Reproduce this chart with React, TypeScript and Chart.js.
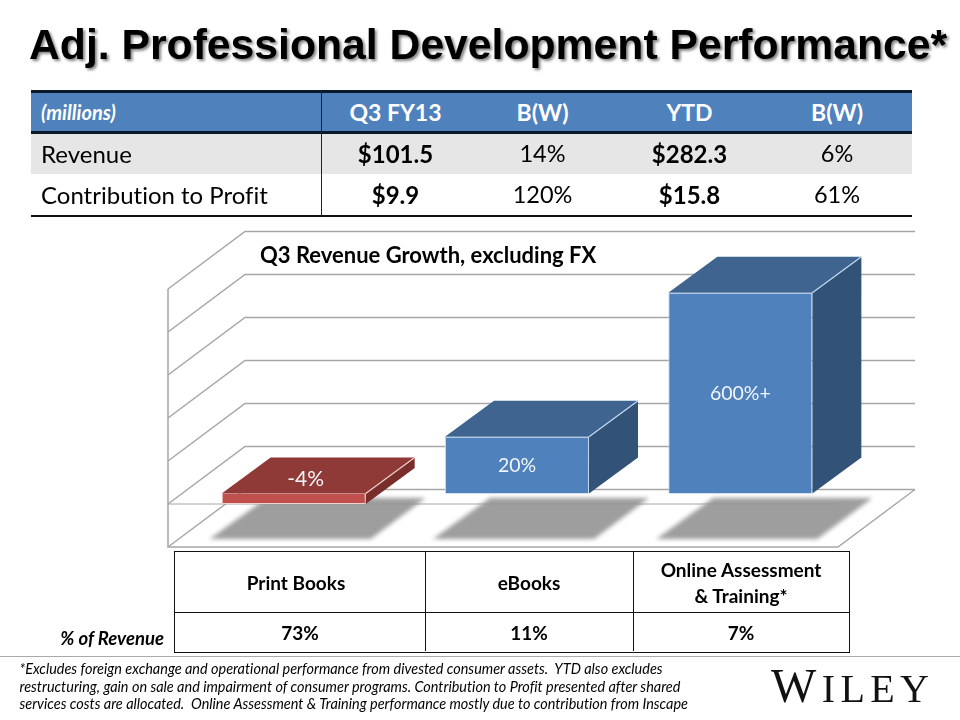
import React, { useEffect, useRef } from "react";
import { Chart, registerables } from "chart.js";

Chart.register(...registerables);

const categories = ["Print Books", "eBooks", "Online Assessment & Training*"];
const growthValues = [-3.7, 19.8, 70];
const growthLabels = ["-4%", "20%", "600%+"];
const revenueShare = ["73%", "11%", "7%"];
const summaryHeader = ["(millions)", "Q3 FY13", "B(W)", "YTD", "B(W)"];
const revenueRow = ["Revenue", "$101.5", "14%", "$282.3", "6%"];
const profitRow = ["Contribution to Profit", "$9.9", "120%", "$15.8", "61%"];
const footnoteLines = [
  "*Excludes foreign exchange and operational performance from divested consumer assets.  YTD also excludes",
  "restructuring, gain on sale and impairment of consumer programs. Contribution to Profit presented after shared",
  "services costs are allocated.  Online Assessment & Training performance mostly due to contribution from Inscape",
];

const BODY = "Lato, 'Noto Sans', sans-serif";
const colX = [395.5, 542.5, 689.5, 837];

const depth3d = { dx: 49, dy: -36 };
const wall = { backDx: 63, backDy: -47, frontDx: -14, frontDy: 10.5 };

const palette = (v: number) =>
  v < 0
    ? { top: "#8f3a36", side: "#7a2e2c", edge: "#f0d0ce" }
    : { top: "#3e648f", side: "#335278", edge: "#c6d9f1" };

const scene3d = {
  id: "scene3d",
  beforeDatasetsDraw(chart: any) {
    const { ctx, chartArea, scales } = chart;
    const y = scales.y;
    const L = chartArea.left;
    const R = chartArea.right;
    const bl = L + wall.backDx;
    const br = R + wall.backDx;
    const fl = L + wall.frontDx;
    const fr = R + wall.frontDx;
    const min = y.min;
    const max = y.max;
    ctx.save();
    ctx.lineCap = "butt";
    ctx.strokeStyle = "#a6a6a6";
    ctx.lineWidth = 1.5;
    y.ticks.forEach((t: any) => {
      const p = y.getPixelForValue(t.value);
      ctx.beginPath();
      ctx.moveTo(fl, p + wall.frontDy);
      ctx.lineTo(bl, p + wall.backDy);
      ctx.lineTo(br, p + wall.backDy);
      ctx.stroke();
    });
    const pTop = y.getPixelForValue(max);
    const pMin = y.getPixelForValue(min);
    const pZero = y.getPixelForValue(0);
    ctx.beginPath();
    ctx.moveTo(fl, pTop + wall.frontDy);
    ctx.lineTo(fl, pMin + wall.frontDy);
    ctx.lineTo(fr, pMin + wall.frontDy);
    ctx.lineTo(br, pMin + wall.backDy);
    ctx.stroke();
    ctx.lineWidth = 1;
    ctx.beginPath();
    ctx.moveTo(fl, pZero + wall.frontDy);
    ctx.lineTo(fr, pZero + wall.frontDy);
    ctx.stroke();

    const bars = chart.getDatasetMeta(0).data;
    // floor shadows
    bars.forEach((b: any) => {
      const l = b.x - b.width / 2;
      const r = b.x + b.width / 2;
      ctx.save();
      ctx.filter = "blur(2px)";
      ctx.fillStyle = "rgba(150,150,150,0.92)";
      ctx.beginPath();
      ctx.moveTo(l + 45, pZero + 4.5);
      ctx.lineTo(r + 60, pZero + 4.5);
      ctx.lineTo(r + 5, pZero + 45.5);
      ctx.lineTo(l - 12, pZero + 45.5);
      ctx.closePath();
      ctx.fill();
      ctx.restore();
    });
    // top and side faces
    bars.forEach((b: any, i: number) => {
      const v = growthValues[i];
      const c = palette(v);
      const l = b.x - b.width / 2;
      const r = b.x + b.width / 2;
      const top = Math.min(b.y, b.base);
      const bot = Math.max(b.y, b.base);
      ctx.fillStyle = c.top;
      ctx.beginPath();
      ctx.moveTo(l, top);
      ctx.lineTo(l + depth3d.dx, top + depth3d.dy);
      ctx.lineTo(r + depth3d.dx, top + depth3d.dy);
      ctx.lineTo(r, top);
      ctx.closePath();
      ctx.fill();
      ctx.fillStyle = c.side;
      ctx.beginPath();
      ctx.moveTo(r, top);
      ctx.lineTo(r + depth3d.dx, top + depth3d.dy);
      ctx.lineTo(r + depth3d.dx, bot + depth3d.dy);
      ctx.lineTo(r, bot);
      ctx.closePath();
      ctx.fill();
    });
    ctx.restore();
  },
  afterDatasetsDraw(chart: any) {
    const { ctx } = chart;
    const bars = chart.getDatasetMeta(0).data;
    ctx.save();
    bars.forEach((b: any, i: number) => {
      const v = growthValues[i];
      const c = palette(v);
      const r = b.x + b.width / 2;
      const top = Math.min(b.y, b.base);
      ctx.strokeStyle = c.edge;
      ctx.lineWidth = 1.2;
      ctx.beginPath();
      ctx.moveTo(r, top);
      ctx.lineTo(r + depth3d.dx, top + depth3d.dy);
      ctx.stroke();
      ctx.fillStyle = "#f2f6fb";
      ctx.textAlign = "center";
      ctx.textBaseline = "middle";
      if (v < 0) {
        ctx.font = `400 21px ${BODY}`;
        ctx.fillText(growthLabels[i], b.x + 12, top - 14);
      } else {
        ctx.font = `400 19.5px ${BODY}`;
        ctx.fillText(growthLabels[i], b.x, (b.y + b.base) / 2 + 1);
      }
    });
    ctx.restore();
  },
};

function Abs({ x, y, align = "center", style, children }: any) {
  const tx = align === "center" ? "-50%" : align === "right" ? "-100%" : "0";
  return (
    <div
      style={{
        position: "absolute",
        left: x,
        top: y,
        transform: `translate(${tx}, -50%)`,
        whiteSpace: "pre",
        fontFamily: BODY,
        fontVariantLigatures: "none",
        color: "#000",
        ...style,
      }}
    >
      {children}
    </div>
  );
}

function Box({ x, y, w, h, bg }: any) {
  return <div style={{ position: "absolute", left: x, top: y, width: w, height: h, background: bg }} />;
}

export default function App() {
  const ref = useRef<HTMLCanvasElement>(null);

  useEffect(() => {
    const chart = new Chart(ref.current as HTMLCanvasElement, {
      type: "bar",
      data: {
        labels: categories,
        datasets: [
          {
            data: growthValues,
            backgroundColor: growthValues.map((v) => (v < 0 ? "#c0504d" : "#4f81bd")),
            borderColor: growthValues.map((v) => (v < 0 ? "#f0d0ce" : "#c6d9f1")),
            borderWidth: 1,
            barPercentage: 0.645,
            categoryPercentage: 1,
          },
        ],
      },
      options: {
        responsive: false,
        animation: false,
        layout: { padding: { left: 182, right: 108, top: 278.5, bottom: 183.5 } },
        plugins: { legend: { display: false }, title: { display: false }, tooltip: { enabled: false } },
        scales: {
          x: { display: false },
          y: { display: false, min: -15, max: 75, ticks: { stepSize: 15 } },
        },
      },
      plugins: [scene3d],
    } as any);
    return () => chart.destroy();
  }, []);

  const rowCells = (row: string[], y: number) =>
    row.slice(1).map((t, i) => (
      <Abs key={i} x={colX[i]} y={y} style={{ fontSize: i % 2 === 0 ? 24 : 23.5, fontWeight: i % 2 === 0 ? 700 : 400 }}>
        {t}
      </Abs>
    ));

  return (
    <div style={{ position: "absolute", left: 0, top: 0, width: 960, height: 720, overflow: "hidden", background: "#fff" }}>
      <canvas ref={ref} width={960} height={720} style={{ position: "absolute", left: 0, top: 0, display: "block" }} />

      <Abs
        x={29}
        y={44}
        align="left"
        style={{
          fontFamily: "'Liberation Sans', Arial, sans-serif",
          fontWeight: 700,
          fontSize: 42.7,
          textShadow: "2px 2px 3px #808080",
        }}
      >
        Adj. Professional Development Performance*
      </Abs>

      <Box x={31} y={91} w={881} h={41} bg="#4f81bd" />
      <Box x={31} y={133} w={881} h={41} bg="#e6e6e6" />
      <Box x={31} y={90} w={881} h={2.5} bg="#0b1a2b" />
      <Box x={31} y={131} w={881} h={3} bg="#0b1a2b" />
      <Box x={31} y={215} w={881} h={2} bg="#111" />
      <Box x={321} y={90} w={1.3} h={126} bg="#222" />
      <Abs x={41} y={112} align="left" style={{ color: "#fff", fontSize: 20, fontWeight: 700, fontStyle: "italic" }}>
        {summaryHeader[0]}
      </Abs>
      {summaryHeader.slice(1).map((t, i) => (
        <Abs key={i} x={colX[i]} y={112} style={{ color: "#fff", fontSize: 23, fontWeight: 700 }}>
          {t}
        </Abs>
      ))}
      <Abs x={41} y={153} align="left" style={{ fontSize: 24 }}>
        {revenueRow[0]}
      </Abs>
      {rowCells(revenueRow, 153)}
      <Abs x={41} y={194} align="left" style={{ fontSize: 24 }}>
        {profitRow[0]}
      </Abs>
      {rowCells(profitRow, 194)}

      <Abs x={260} y={254} align="left" style={{ fontSize: 22, fontWeight: 700 }}>
        Q3 Revenue Growth, excluding FX
      </Abs>

      {/* lower table */}
      <div style={{ position: "absolute", left: 174, top: 551, width: 674, height: 100, border: "1px solid #111", boxSizing: "content-box" }} />
      <Box x={175} y={612} w={674} h={1} bg="#111" />
      <Box x={425} y={551} w={1} h={100} bg="#111" />
      <Box x={633} y={551} w={1} h={100} bg="#111" />
      <Abs x={296} y={582} style={{ fontSize: 19, fontWeight: 700 }}>{categories[0]}</Abs>
      <Abs x={529} y={582} style={{ fontSize: 19, fontWeight: 700 }}>{categories[1]}</Abs>
      <Abs x={741} y={582} style={{ fontSize: 19, fontWeight: 700, textAlign: "center", lineHeight: "25.5px" }}>
        {categories[2].replace(" & ", "\n& ")}
      </Abs>
      {revenueShare.map((t, i) => (
        <Abs key={i} x={[300, 529, 741][i]} y={632} style={{ fontSize: 19, fontWeight: 700 }}>
          {t}
        </Abs>
      ))}
      <Abs x={164} y={638} align="right" style={{ fontSize: 18.5, fontWeight: 700, fontStyle: "italic" }}>
        % of Revenue
      </Abs>

      <Box x={0} y={656} w={960} h={1} bg="#aaaaaa" />
      {footnoteLines.map((t, i) => (
        <Abs key={i} x={19.5} y={[668, 686, 703][i]} align="left" style={{ fontSize: 14.45, fontStyle: "italic" }}>
          {t}
        </Abs>
      ))}

      <Abs
        x={771}
        y={687}
        align="left"
        style={{ fontFamily: "'Liberation Serif', serif", fontSize: 40, letterSpacing: 5.4, color: "#111", lineHeight: "50px" }}
      >
        <span style={{ fontSize: 48 }}>W</span>ILEY
      </Abs>
    </div>
  );
}
